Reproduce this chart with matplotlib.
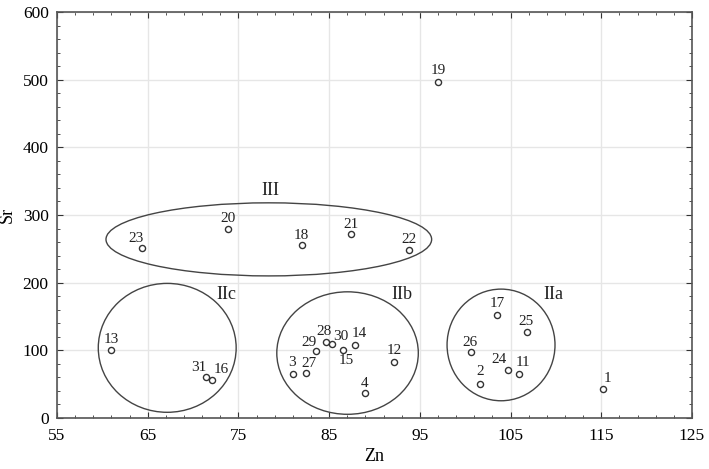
import matplotlib
matplotlib.use("Agg")
import matplotlib.pyplot as plt
import numpy as np
from matplotlib.patches import Ellipse

plt.rcParams['font.family'] = ['Liberation Serif', 'DejaVu Serif']

# sample numbers, Zn and Sr values
ids = ["1", "2", "3", "4", "11", "12", "13", "14", "15", "16", "17", "18", "19", "20", "21",
       "22", "23", "24", "25", "26", "27", "28", "29", "30", "31"]
zn = [115.2, 101.6, 81.05, 89.0, 105.9, 92.2, 61.0, 87.9, 86.5, 72.1, 103.5, 82.05, 97.0, 73.9, 87.4,
      93.85, 64.4, 104.7, 106.8, 100.6, 82.4, 84.6, 83.6, 85.3, 71.4]
sr = [43, 51, 65, 36.5, 64.5, 83, 100.4, 108, 101, 56, 152.6, 255, 496, 279.6, 271.8,
      248, 251, 71, 127, 97, 66, 112.7, 99, 109, 61]
# label offsets in pixels (dx, dy) relative to the point
label_dx = [4, 0, -1, -1, 4, 0, 0, 4, 4, 9, 0, -1, 0, 0, 0,
            0, -6, -9, -1, -1, 3, -2, -7, 9, -7]
label_dy = [10, 12, 12, 10, 12, 11, 11, 11, -11, 11, 11, 10, 12, 10, 10,
            11, 10, 10, 11, 10, 10, 10, 9, 8, 9]

# groups: name, centre Zn, centre Sr, width (Zn), height (Sr), label position
groups = ["IIa", "IIb", "IIc", "III"]
grp_x = [103.95, 87.03, 67.15, 78.35]
grp_y = [108, 96, 103.7, 264]
grp_w = [11.9, 15.6, 15.2, 35.9]
grp_h = [165, 181, 190.5, 108]
grp_lx = [109.7, 93.0, 73.7, 78.5]
grp_ly = [182, 183, 183, 336]

fig = plt.figure(figsize=(7.09, 4.69), dpi=100)
ax = fig.add_axes([0.0804, 0.1087, 0.8956, 0.8657])

ax.set_xlim(55, 125)
ax.set_ylim(0, 600)
ax.set_xticks(np.arange(55, 126, 10))
ax.set_xticks(np.arange(55, 126, 2), minor=True)
ax.set_yticks(np.arange(0, 601, 100))
ax.set_yticks(np.arange(0, 601, 20), minor=True)
ax.tick_params(which="both", direction="in", top=True, right=True, color="#333333")
ax.tick_params(which="major", length=4, labelsize=12.5)
ax.tick_params(axis="x", which="major", pad=7)
ax.tick_params(axis="y", which="major", pad=6)
ax.tick_params(which="minor", length=2.5)
ax.grid(True, which="major", color="#e6e6e6", linewidth=1.0)
ax.set_axisbelow(True)
for s in ax.spines.values():
    s.set_color("#555555")
    s.set_linewidth(1.2)

for i in range(len(groups)):
    e = Ellipse((grp_x[i], grp_y[i]), grp_w[i], grp_h[i], fill=False,
                edgecolor="#444444", linewidth=1.0)
    ax.add_patch(e)
    ax.text(grp_lx[i], grp_ly[i], groups[i], fontsize=13, ha="center", va="center", color="#222222")

ax.plot(zn, sr, "o", markersize=4.4, markerfacecolor="white", markeredgecolor="#333333",
        markeredgewidth=1.0, linestyle="none", zorder=3)

for i in range(len(ids)):
    ax.annotate(ids[i], (zn[i], sr[i]), xytext=(label_dx[i] * 0.72, label_dy[i] * 0.72),
                textcoords="offset points", ha="center", va="center", fontsize=11, color="#222222")

ax.set_xlabel("Zn", fontsize=13, labelpad=3)
ax.set_ylabel("Sr", fontsize=13, labelpad=5)

fig.savefig("out.png", dpi=100)
